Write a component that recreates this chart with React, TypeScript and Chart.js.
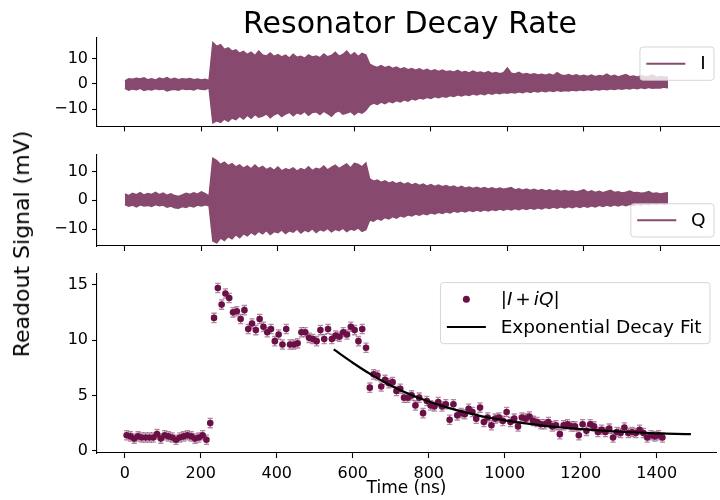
import React, { useEffect, useRef } from "react";
import { Chart, registerables } from "chart.js";

Chart.register(...registerables);

const FONT = "'DejaVu Sans', sans-serif";

// ---------------- data ----------------
const xTicks = [0, 200, 400, 600, 800, 1000, 1200, 1400];
const iqTicks = [-10, 0, 10];
const magTicks = [0, 5, 10, 15];

const envTimes = [
  0, 10, 20, 30, 40, 50, 60, 70, 80, 90, 100, 110, 120, 130, 140, 150, 160, 170, 180, 190, 200, 210, 220,
  230, 240, 250, 260, 270, 280, 290, 300, 310, 320, 330, 340, 350, 360, 370, 380, 390, 400, 410, 420, 430,
  440, 450, 460, 470, 480, 490, 500, 510, 520, 530, 540, 550, 560, 570, 580, 590, 600, 610, 620, 630,
  640, 650, 660, 670, 680, 690, 700, 710, 720,
  730, 740, 750, 760, 770, 780, 790, 800, 810, 820,
  830, 840, 850, 860, 870, 880, 890, 900, 910, 920, 930, 940, 950, 960, 970, 980, 990, 1000,
  1010, 1020, 1030, 1040, 1050, 1060, 1070, 1080, 1090, 1100, 1110, 1120, 1130, 1140, 1150, 1160, 1170, 1180, 1190, 1200,
  1210, 1220, 1230, 1240, 1250, 1260, 1270, 1280, 1290, 1300, 1310, 1320, 1330, 1340, 1350, 1360, 1370, 1380, 1390, 1400, 1410, 1420,
];

const iUpper = [
  1.2, 2.0, 1.8, 2.2, 1.9, 2.4, 1.6, 2.0, 1.5, 2.3, 1.8, 2.5, 1.7, 2.2, 1.6, 2.0, 1.8, 2.1, 1.6, 1.9, 1.5, 1.8, 1.3,
  16.3, 14.8, 15.5, 13.6, 14.2, 12.9, 13.4, 12.1, 12.8, 11.6, 12.5, 11.2, 12.9, 11.4, 11.0, 12.2, 10.8, 11.5, 10.6, 11.3,
  10.2, 11.7, 10.5, 10.9, 10.1, 11.4, 10.6, 11.0, 10.3, 11.8, 10.7, 11.2, 12.5, 10.9, 11.6, 12.9, 11.1, 12.3, 10.8, 12.0, 11.4,
  7.8, 7.0, 6.5, 7.2, 6.4, 6.9, 6.1, 6.6, 5.8,
  6.3, 5.6, 6.0, 5.4, 5.9, 5.2, 5.7, 5.0, 5.5, 4.9,
  5.4, 4.8, 5.1, 4.6, 5.3, 4.5, 4.9, 4.3, 5.0, 4.4, 4.7, 4.2, 4.8, 4.1, 4.5, 4.0, 4.4, 6.3,
  4.2, 3.9, 4.5, 3.7, 4.1, 3.6, 4.0, 3.5, 3.8, 3.4, 3.9, 3.3, 4.4, 3.5, 3.2, 3.7, 3.1, 3.6, 3.0, 3.4,
  2.9, 3.5, 2.8, 3.3, 3.0, 3.8, 2.9, 3.4, 2.7, 3.2, 3.7, 2.8, 3.1, 2.6, 3.3, 2.7, 3.0, 3.5, 2.5, 2.9, 2.6, 2.8,
];

const iLower = [
  -1.8, -2.5, -2.0, -2.3, -1.8, -2.6, -2.1, -2.4, -1.9, -2.2, -2.0, -2.8, -2.3, -2.1, -2.5, -1.9, -2.2, -2.0, -2.4, -1.8, -2.1, -2.2, -1.6,
  -15.4, -14.6, -15.2, -13.9, -14.8, -13.5, -14.1, -12.8, -13.9, -12.4, -13.6, -12.1, -13.2, -12.7, -11.8, -13.4, -12.2, -11.5, -12.9, -11.9,
  -11.2, -12.6, -11.4, -12.0, -10.9, -12.4, -11.3, -11.0, -12.1, -10.8, -11.7, -12.8, -11.2, -10.6, -12.0, -11.5, -10.9, -12.2, -11.0, -11.6, -10.4,
  -8.4, -7.6, -8.1, -7.2, -7.8, -6.9, -7.4, -6.6, -7.1,
  -6.3, -6.8, -5.9, -6.4, -5.6, -6.0, -5.3, -5.8, -5.0, -5.5,
  -4.9, -5.3, -4.6, -5.0, -4.3, -4.8, -4.2, -4.6, -3.9, -4.4, -3.8, -4.3, -3.6, -4.1, -3.5, -3.9, -3.4, -3.7,
  -3.3, -3.6, -3.1, -3.5, -2.9, -3.4, -2.8, -3.2, -2.7, -3.1, -2.6, -3.0, -2.5, -2.9, -2.6, -2.8, -2.4, -2.7, -2.3, -2.6,
  -2.2, -2.5, -2.1, -2.4, -2.0, -2.3, -1.9, -2.2, -1.8, -2.1, -1.7, -2.0, -1.6, -1.9, -1.5, -1.8, -1.4, -1.7, -1.5, -1.6, -1.3, -1.5,
];

const qUpper = [
  2.2, 1.6, 2.4, 1.9, 2.6, 1.8, 2.3, 2.0, 2.7, 1.9, 2.5, 1.7, 2.2, 1.6, 1.3, 1.8, 2.4, 2.0, 2.6, 2.1, 2.9, 2.3, 1.4,
  14.6, 13.8, 12.4, 13.2, 12.0, 12.7, 11.6, 12.3, 11.1, 11.9, 10.9, 12.2, 11.0, 11.7, 10.6, 11.3, 10.4, 11.5, 10.2, 10.9,
  10.5, 11.2, 10.1, 11.0, 10.4, 11.6, 10.3, 11.1, 10.7, 11.9, 10.5, 11.4, 12.2, 11.0, 11.8, 12.6, 11.2, 12.8, 12.4, 11.6, 12.9,
  7.4, 6.6, 7.0, 6.2, 6.7, 5.9, 6.4, 5.7, 6.2,
  5.5, 6.0, 5.3, 5.8, 5.1, 5.6, 4.9, 5.4, 4.8, 5.3,
  4.7, 5.1, 4.5, 4.9, 4.3, 4.8, 4.2, 4.6, 4.1, 4.5, 4.0, 4.4, 3.9, 4.3, 3.8, 4.2, 3.8, 4.1,
  4.4, 3.6, 4.0, 3.5, 3.9, 3.4, 3.8, 3.3, 3.7, 3.2, 3.6, 3.1, 3.5, 3.0, 3.4, 3.0, 3.3, 2.9, 3.2, 3.6,
  2.8, 3.3, 2.7, 3.1, 2.6, 3.0, 3.4, 2.7, 2.9, 2.5, 2.8, 3.2, 2.6, 2.7, 2.4, 2.6, 3.0, 2.3, 2.5, 2.2, 2.4, 2.6,
];

const qLower = [
  -1.5, -2.1, -1.7, -2.3, -1.6, -2.0, -1.8, -2.2, -1.5, -1.9, -1.7, -2.4, -2.0, -2.6, -2.8, -2.2, -2.5, -1.9, -2.3, -1.7, -2.0, -1.6, -1.9,
  -14.2, -14.8, -13.1, -14.0, -12.6, -13.4, -12.0, -13.0, -11.6, -12.4, -11.2, -12.0, -10.8, -11.7, -10.5, -11.9, -10.9, -11.3, -10.3, -11.6,
  -10.6, -11.1, -10.0, -11.4, -10.4, -10.9, -9.9, -11.2, -10.2, -10.7, -9.8, -11.0, -10.1, -10.6, -9.7, -10.9, -10.0, -10.4, -9.6, -10.8, -10.2,
  -6.9, -7.3, -6.4, -6.9, -6.0, -6.5, -5.7, -6.2, -5.4,
  -5.8, -5.1, -5.5, -4.8, -5.2, -4.6, -5.0, -4.4, -4.8, -4.2,
  -4.6, -4.0, -4.4, -3.8, -4.2, -3.7, -4.1, -3.5, -3.9, -3.4, -3.8, -3.3, -3.7, -3.2, -3.6, -3.1, -3.5, -3.0,
  -3.4, -2.9, -3.3, -2.8, -3.2, -2.7, -3.1, -2.6, -3.0, -2.5, -2.9, -2.4, -2.8, -2.3, -2.7, -2.2, -2.6, -2.1, -2.5, -2.0,
  -2.4, -1.9, -2.3, -1.8, -2.2, -1.7, -2.1, -1.6, -2.0, -1.5, -1.9, -1.4, -1.8, -1.3, -1.7, -1.2, -1.6, -1.1, -1.5, -1.0, -1.4, -1.2,
];

const sampleTimes = [
  5, 15, 25, 35, 45, 55, 65, 75, 85, 95, 105, 115, 125, 135, 145, 155, 165, 175, 185, 195, 205, 215,
  225, 235, 245, 255, 265, 275, 285, 295, 305, 315, 325, 335, 345, 355, 365, 375, 385, 395, 405, 415,
  425, 435, 445, 455, 465, 475, 485, 495, 505, 515, 525, 535, 545, 555, 565, 575, 585, 595, 605, 615, 625, 635,
  645, 655, 665, 675, 685, 695, 705, 715, 725, 735, 745, 755, 765, 775, 785, 795, 805, 815, 825, 835,
  845, 855, 865, 875, 885, 895, 905, 915, 925, 935, 945, 955, 965, 975, 985, 995, 1005, 1015, 1025, 1035,
  1045, 1055, 1065, 1075, 1085, 1095, 1105, 1115, 1125, 1135, 1145, 1155, 1165, 1175, 1185, 1195, 1205, 1215, 1225, 1235,
  1245, 1255, 1265, 1275, 1285, 1295, 1305, 1315, 1325, 1335, 1345, 1355, 1365, 1375, 1385, 1395, 1405, 1415,
];

const magnitude = [
  1.4, 1.3, 1.1, 1.3, 1.2, 1.2, 1.2, 1.2, 1.5, 1.1, 1.4, 1.3, 1.2, 1.0, 1.2, 1.3, 1.4, 1.3, 1.1, 1.2, 1.4, 1.0,
  2.5, 12.0, 14.7, 13.2, 14.2, 13.8, 12.5, 12.6, 11.9, 12.7, 11.0, 11.5, 10.9, 11.9, 11.2, 10.7, 11.0, 9.9, 10.5, 9.6,
  11.0, 9.6, 9.6, 9.7, 10.7, 10.7, 10.2, 10.1, 9.9, 10.9, 10.1, 11.0, 10.1, 10.4, 10.3, 10.7, 10.5, 11.2, 10.9, 9.9, 11.0, 9.3,
  5.7, 6.9, 6.8, 5.8, 6.4, 6.1, 6.2, 5.4, 5.6, 4.8, 4.8, 5.0, 4.1, 4.8, 3.4, 4.5, 4.1, 4.0, 4.4, 4.0,
  4.2, 2.8, 4.2, 3.2, 3.4, 3.3, 3.8, 3.5, 2.9, 3.9, 2.6, 3.0, 2.3, 2.9, 3.0, 2.7, 3.5, 2.6, 2.9, 2.2,
  3.0, 2.9, 3.1, 2.7, 2.6, 2.4, 2.4, 2.6, 2.2, 2.3, 1.5, 2.3, 2.4, 2.2, 2.2, 1.4, 2.4, 1.8, 2.4, 2.2,
  1.7, 1.9, 1.7, 2.0, 1.2, 1.7, 1.6, 2.1, 1.6, 1.7, 1.6, 1.9, 1.6, 1.2, 1.4, 1.3, 1.4, 1.2,
];
const magError = 0.42;

const fitTimes = [550, 600, 650, 700, 750, 800, 850, 900, 950, 1000, 1050, 1100, 1150, 1200, 1250, 1300, 1350, 1400, 1450, 1490];
const fitValues = [9.15, 7.95, 6.85, 5.9, 5.1, 4.45, 3.9, 3.45, 3.05, 2.75, 2.5, 2.28, 2.1, 1.95, 1.83, 1.73, 1.65, 1.58, 1.53, 1.5];

// ---------------- styling ----------------
const X_MIN = -73;
const X_MAX = 1556;
const ENV_COLOR = "#874a6e";
const DOT_COLOR = "#6a1046";
const ERR_COLOR = "rgba(106,16,70,0.5)";
const TICK_SIZE = 16;
const LEG_FS = 18.5;

const minus = (v: any) => String(v).replace("-", "\u2212");

function xScale(showLabels: boolean, height: number, title?: string) {
  return {
    type: "linear",
    min: X_MIN,
    max: X_MAX,
    afterBuildTicks: (s: any) => {
      s.ticks = xTicks.map((v) => ({ value: v }));
    },
    afterFit: (s: any) => {
      s.height = height;
    },
    ticks: {
      display: showLabels,
      color: "#000",
      font: { family: FONT, size: TICK_SIZE },
      padding: 6,
      maxRotation: 0,
      autoSkip: false,
      callback: minus,
    },
    grid: { display: true, drawOnChartArea: false, drawTicks: true, tickLength: 5, tickWidth: 1.1, tickColor: "#000" },
    border: { display: true, color: "#000", width: 1.1 },
    title: title
      ? { display: true, text: title, color: "#000", font: { family: FONT, size: 17 }, padding: { top: 0, bottom: 1 } }
      : { display: false },
  };
}

function yScale(min: number, max: number, ticks: number[]) {
  return {
    type: "linear",
    min,
    max,
    afterBuildTicks: (s: any) => {
      s.ticks = ticks.map((v) => ({ value: v }));
    },
    afterFit: (s: any) => {
      s.width = 97;
    },
    ticks: {
      color: "#000",
      font: { family: FONT, size: TICK_SIZE },
      padding: 4,
      autoSkip: false,
      callback: minus,
    },
    grid: { display: true, drawOnChartArea: false, drawTicks: true, tickLength: 5, tickWidth: 1.1, tickColor: "#000" },
    border: { display: true, color: "#000", width: 1.1 },
  };
}

type Seg = { text: string; italic?: boolean; gap?: number };
type LegItem = { kind: "line" | "dot"; color: string; label: Seg[] };

function segFont(s: Seg) {
  return `${s.italic ? "italic " : ""}${LEG_FS}px ${FONT}`;
}

function drawLegend(chart: any, items: LegItem[], anchor: "top" | "bottom") {
  const ctx: CanvasRenderingContext2D = chart.ctx;
  const area = chart.chartArea;
  const pad = 0.4 * LEG_FS;
  const handleLen = 2 * LEG_FS;
  const handlePad = 0.8 * LEG_FS;
  const rowH = 18.5;
  const rowGap = 0.5 * LEG_FS;
  ctx.save();
  let maxW = 0;
  for (const it of items) {
    let w = 0;
    for (const s of it.label) {
      ctx.font = segFont(s);
      w += (s.gap || 0) * 2 + ctx.measureText(s.text).width;
    }
    maxW = Math.max(maxW, w);
  }
  const boxW = pad * 2 + handleLen + handlePad + maxW + 2;
  const boxH = pad * 2 + rowH * items.length + rowGap * (items.length - 1);
  const right = area.right - 6;
  const x0 = right - boxW;
  const y0 = anchor === "top" ? area.top + 9 : area.bottom - 9 - boxH;
  const r = 3;
  ctx.beginPath();
  ctx.moveTo(x0 + r, y0);
  ctx.lineTo(x0 + boxW - r, y0);
  ctx.arcTo(x0 + boxW, y0, x0 + boxW, y0 + r, r);
  ctx.lineTo(x0 + boxW, y0 + boxH - r);
  ctx.arcTo(x0 + boxW, y0 + boxH, x0 + boxW - r, y0 + boxH, r);
  ctx.lineTo(x0 + r, y0 + boxH);
  ctx.arcTo(x0, y0 + boxH, x0, y0 + boxH - r, r);
  ctx.lineTo(x0, y0 + r);
  ctx.arcTo(x0, y0, x0 + r, y0, r);
  ctx.closePath();
  ctx.fillStyle = "rgba(255,255,255,0.8)";
  ctx.fill();
  ctx.strokeStyle = "rgba(204,204,204,0.8)";
  ctx.lineWidth = 1;
  ctx.stroke();

  items.forEach((it, i) => {
    const cy = y0 + pad + rowH / 2 + i * (rowH + rowGap);
    const hx = x0 + pad;
    if (it.kind === "line") {
      ctx.beginPath();
      ctx.moveTo(hx, cy);
      ctx.lineTo(hx + handleLen, cy);
      ctx.strokeStyle = it.color;
      ctx.lineWidth = 2;
      ctx.lineCap = "square";
      ctx.stroke();
    } else {
      ctx.beginPath();
      ctx.arc(hx + handleLen / 2, cy, 3.5, 0, Math.PI * 2);
      ctx.fillStyle = it.color;
      ctx.fill();
    }
    let tx = hx + handleLen + handlePad + 1;
    ctx.fillStyle = "#000";
    ctx.textBaseline = "middle";
    ctx.textAlign = "left";
    for (const s of it.label) {
      ctx.font = segFont(s);
      tx += s.gap || 0;
      ctx.fillText(s.text, tx, cy + 1);
      tx += ctx.measureText(s.text).width + (s.gap || 0);
    }
  });
  ctx.restore();
}

function envelopeDatasets(upper: number[], lower: number[]) {
  return [
    {
      data: envTimes.map((t, i) => ({ x: t, y: upper[i] })),
      borderColor: ENV_COLOR,
      backgroundColor: ENV_COLOR,
      borderWidth: 1.5,
      pointRadius: 0,
      tension: 0,
      fill: "+1",
    },
    {
      data: envTimes.map((t, i) => ({ x: t, y: lower[i] })),
      borderColor: ENV_COLOR,
      backgroundColor: ENV_COLOR,
      borderWidth: 1.5,
      pointRadius: 0,
      tension: 0,
      fill: false,
    },
  ];
}

const baseOptions = {
  animation: false,
  responsive: false,
  events: [],
  plugins: { legend: { display: false }, tooltip: { enabled: false }, title: { display: false } },
};

export default function App() {
  const c1 = useRef<HTMLCanvasElement>(null);
  const c2 = useRef<HTMLCanvasElement>(null);
  const c3 = useRef<HTMLCanvasElement>(null);

  useEffect(() => {
    const charts: Chart[] = [];

    charts.push(
      new Chart(c1.current as HTMLCanvasElement, {
        type: "line",
        data: { datasets: envelopeDatasets(iUpper, iLower) as any },
        options: {
          ...baseOptions,
          layout: { padding: { top: 38, left: 0, right: 0, bottom: 0 } },
          scales: { x: xScale(false, 10) as any, y: yScale(-16.8, 18.1, iqTicks) as any },
        } as any,
        plugins: [
          {
            id: "legI",
            afterDraw: (ch: any) => drawLegend(ch, [{ kind: "line", color: ENV_COLOR, label: [{ text: "I" }] }], "top"),
          },
        ],
      })
    );

    charts.push(
      new Chart(c2.current as HTMLCanvasElement, {
        type: "line",
        data: { datasets: envelopeDatasets(qUpper, qLower) as any },
        options: {
          ...baseOptions,
          layout: { padding: { top: 15, left: 0, right: 0, bottom: 0 } },
          scales: { x: xScale(false, 14) as any, y: yScale(-15.9, 15.7, iqTicks) as any },
        } as any,
        plugins: [
          {
            id: "legQ",
            afterDraw: (ch: any) => drawLegend(ch, [{ kind: "line", color: ENV_COLOR, label: [{ text: "Q" }] }], "bottom"),
          },
        ],
      })
    );

    charts.push(
      new Chart(c3.current as HTMLCanvasElement, {
        type: "scatter",
        data: {
          datasets: [
            {
              type: "line",
              data: fitTimes.map((t, i) => ({ x: t, y: fitValues[i] })),
              borderColor: "#000",
              borderWidth: 2.2,
              pointRadius: 0,
              cubicInterpolationMode: "monotone",
              fill: false,
              order: 0,
            },
            {
              data: sampleTimes.map((t, i) => ({ x: t, y: magnitude[i] })),
              backgroundColor: DOT_COLOR,
              borderColor: DOT_COLOR,
              borderWidth: 0,
              pointRadius: 3.3,
              order: 1,
            },
          ] as any,
        },
        options: {
          ...baseOptions,
          layout: { padding: { top: 11, left: 0, right: 0, bottom: 0 } },
          scales: { x: xScale(true, 47, "Time (ns)") as any, y: yScale(-0.2, 16.0, magTicks) as any },
        } as any,
        plugins: [
          {
            id: "errBars",
            beforeDatasetsDraw: (ch: any) => {
              const ctx: CanvasRenderingContext2D = ch.ctx;
              const xs = ch.scales.x;
              const ys = ch.scales.y;
              ctx.save();
              ctx.strokeStyle = ERR_COLOR;
              ctx.lineWidth = 1.3;
              sampleTimes.forEach((t, i) => {
                const px = xs.getPixelForValue(t);
                const pLo = ys.getPixelForValue(magnitude[i] - magError);
                const pHi = ys.getPixelForValue(magnitude[i] + magError);
                ctx.beginPath();
                ctx.moveTo(px, pLo);
                ctx.lineTo(px, pHi);
                ctx.moveTo(px - 2.6, pLo);
                ctx.lineTo(px + 2.6, pLo);
                ctx.moveTo(px - 2.6, pHi);
                ctx.lineTo(px + 2.6, pHi);
                ctx.stroke();
              });
              ctx.restore();
            },
          },
          {
            id: "legM",
            afterDraw: (ch: any) =>
              drawLegend(
                ch,
                [
                  {
                    kind: "dot",
                    color: DOT_COLOR,
                    label: [
                      { text: "|" },
                      { text: "I", italic: true },
                      { text: "+", gap: 3 },
                      { text: "iQ", italic: true },
                      { text: "|" },
                    ],
                  },
                  { kind: "line", color: "#000", label: [{ text: "Exponential Decay Fit" }] },
                ],
                "top"
              ),
          },
        ],
      })
    );

    return () => charts.forEach((c) => c.destroy());
  }, []);

  const canvasStyle = (top: number, h: number): React.CSSProperties => ({
    position: "absolute",
    left: 0,
    top,
    width: 720,
    height: h,
  });

  return (
    <div style={{ position: "fixed", left: 0, top: 0, width: 720, height: 500, background: "#fff", overflow: "hidden" }}>
      <canvas ref={c1} width={720} height={140} style={canvasStyle(0, 140)} />
      <canvas ref={c2} width={720} height={120} style={canvasStyle(140, 120)} />
      <canvas ref={c3} width={720} height={240} style={canvasStyle(260, 240)} />
      <div
        style={{
          position: "absolute",
          left: 110,
          top: 8,
          width: 600,
          textAlign: "center",
          fontFamily: FONT,
          fontSize: 30,
          lineHeight: "30px",
          color: "#000",
          whiteSpace: "nowrap",
        }}
      >
        Resonator Decay Rate
      </div>
      <div
        style={{
          position: "absolute",
          left: 22.4,
          top: 244,
          transform: "translate(-50%, -50%) rotate(-90deg)",
          fontFamily: FONT,
          fontSize: 22,
          lineHeight: "22px",
          color: "#000",
          whiteSpace: "nowrap",
        }}
      >
        Readout Signal (mV)
      </div>
    </div>
  );
}
